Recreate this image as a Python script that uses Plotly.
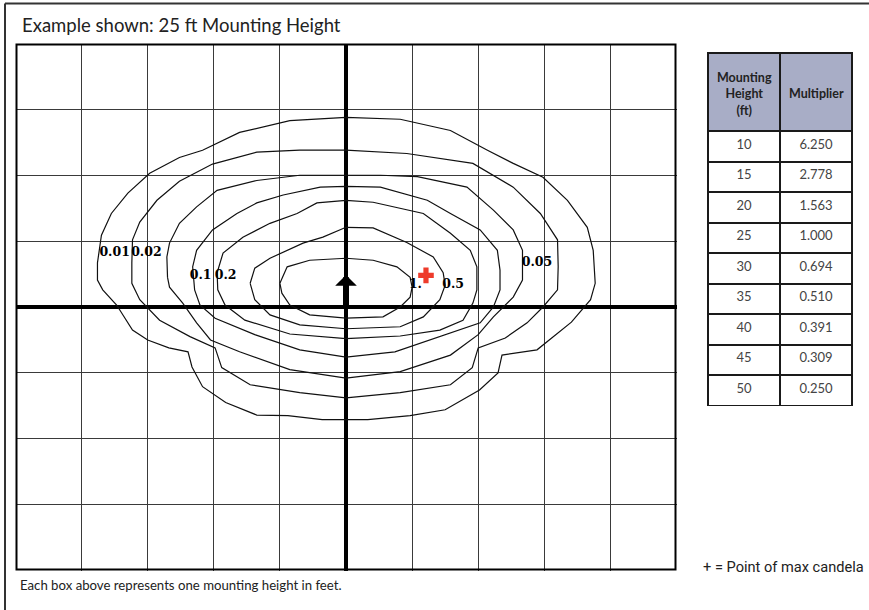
import plotly.graph_objects as go

W, H = 869, 610

# ---- data (grid units = mounting heights; lamp at 0,0) ----
X_RANGE = [-5, 5]
Y_RANGE = [-4, 4]

c001_x = [-3.76, -3.70, -3.55, -3.30, -2.97, -2.52, -2.17, -1.61, -0.85, 0.00, 0.82, 1.58, 2.14, 2.53, 2.98, 3.35, 3.65, 3.74, 3.77, 3.70, 3.41, 3.03, 2.89, 2.36, 2.30, 2.02, 1.50, 0.97, 0.33, -0.36, -0.88, -1.35, -1.82, -2.17, -2.33, -2.39, -2.68, -3.00, -3.23, -3.47, -3.68, -3.76]
c001_y = [0.67, 1.09, 1.42, 1.73, 2.03, 2.27, 2.38, 2.65, 2.83, 2.88, 2.85, 2.68, 2.38, 2.18, 1.97, 1.62, 1.21, 0.86, 0.36, 0.11, -0.23, -0.53, -0.65, -0.73, -1.00, -1.26, -1.56, -1.65, -1.71, -1.71, -1.65, -1.64, -1.45, -1.21, -0.91, -0.68, -0.62, -0.50, -0.35, 0.03, 0.26, 0.41]

c002_x = [-3.24, -3.23, -3.12, -2.86, -2.52, -2.02, -1.35, -0.70, 0.00, 0.92, 1.92, 2.53, 2.94, 3.20, 3.21, 3.20, 2.98, 2.74, 2.41, 2.00, 1.91, 1.58, 0.82, 0.00, -0.70, -1.45, -1.88, -1.98, -2.36, -2.82, -3.12, -3.24]
c002_y = [0.67, 1.02, 1.29, 1.62, 1.91, 2.17, 2.35, 2.38, 2.38, 2.33, 2.18, 1.82, 1.42, 1.02, 0.61, 0.26, 0.00, -0.24, -0.47, -0.62, -0.92, -1.18, -1.30, -1.38, -1.30, -1.18, -0.92, -0.62, -0.45, -0.20, 0.11, 0.36]

c005_x = [-2.70, -2.71, -2.67, -2.52, -2.26, -1.95, -1.35, -0.70, 0.00, 0.52, 1.08, 1.83, 2.23, 2.53, 2.67, 2.67, 2.53, 2.23, 2.00, 1.58, 0.82, 0.00, -0.85, -1.61, -2.05, -2.26, -2.47, -2.67]
c005_y = [0.45, 0.76, 0.97, 1.27, 1.52, 1.77, 1.92, 2.00, 2.00, 2.00, 1.98, 1.82, 1.47, 1.17, 0.86, 0.41, 0.15, -0.15, -0.42, -0.73, -0.98, -1.08, -0.95, -0.68, -0.50, -0.24, 0.06, 0.30]

c01_x = [-2.32, -2.26, -2.02, -1.65, -1.35, -0.95, -0.39, 0.00, 0.52, 1.23, 1.58, 2.03, 2.29, 2.33, 2.33, 2.23, 2.03, 1.42, 0.74, 0.00, -0.70, -1.38, -1.98, -2.21, -2.29]
c01_y = [0.61, 0.86, 1.17, 1.42, 1.58, 1.70, 1.82, 1.83, 1.82, 1.62, 1.42, 1.17, 0.86, 0.56, 0.26, 0.00, -0.24, -0.45, -0.68, -0.76, -0.65, -0.42, -0.17, 0.03, 0.26]

c02_x = [-1.95, -1.86, -1.56, -1.15, -0.74, -0.44, 0.00, 0.41, 1.17, 1.58, 1.88, 1.98, 1.98, 1.92, 1.77, 1.42, 0.82, 0.00, -0.85, -1.53, -1.83, -1.94]
c02_y = [0.52, 0.82, 1.06, 1.27, 1.42, 1.58, 1.62, 1.59, 1.42, 1.12, 0.86, 0.61, 0.26, 0.06, -0.20, -0.35, -0.44, -0.48, -0.41, -0.20, 0.03, 0.26]

c05_x = [-1.45, -1.38, -1.15, -0.65, -0.35, 0.00, 0.41, 0.92, 1.32, 1.47, 1.50, 1.42, 1.17, 0.82, 0.00, -0.70, -1.15, -1.38]
c05_y = [0.36, 0.59, 0.74, 0.97, 1.06, 1.21, 1.20, 0.98, 0.76, 0.52, 0.33, 0.11, -0.15, -0.30, -0.33, -0.27, -0.12, 0.11]

c1_x = [-1.00, -0.89, -0.55, 0.00, 0.41, 0.77, 0.97, 1.00, 0.97, 0.82, 0.56, 0.00, -0.55, -0.85, -0.97]
c1_y = [0.36, 0.61, 0.71, 0.74, 0.71, 0.61, 0.45, 0.30, 0.15, 0.00, -0.15, -0.17, -0.12, 0.03, 0.21]

label_text = ["0.01", "0.02", "0.1", "0.2", "1.", "0.5", "0.05"]
label_x = [-3.50, -3.02, -2.20, -1.82, 1.05, 1.62, 2.89]
label_y = [0.82, 0.82, 0.48, 0.48, 0.33, 0.33, 0.67]

maxcd_x = [1.21]
maxcd_y = [0.48]

arrow_tip_y = 0.485

mount_heights = [10, 15, 20, 25, 30, 35, 40, 45, 50]
multipliers = [6.250, 2.778, 1.563, 1.000, 0.694, 0.510, 0.391, 0.309, 0.250]
table_headers = ["Mounting<br>Height<br>(ft)", "Multiplier"]

title_text = "Example shown: 25 ft Mounting Height"
foot_text = "Each box above represents one mounting height in feet."
legend_text = "+ = Point of max candela"

# ---- figure ----
def px_x(p):
    return p / W

def px_y(p):
    return 1 - p / H

fig = go.Figure()

contours = [(c001_x, c001_y), (c002_x, c002_y), (c005_x, c005_y), (c01_x, c01_y),
            (c02_x, c02_y), (c05_x, c05_y), (c1_x, c1_y)]
for cx, cy in contours:
    fig.add_trace(go.Scatter(
        x=cx + cx[:1], y=cy + cy[:1], mode="lines",
        line=dict(color="#111111", width=1.2), hoverinfo="skip", showlegend=False))

fig.add_trace(go.Scatter(
    x=label_x, y=label_y, mode="text",
    text=["<b>%s</b>" % t for t in label_text],
    textfont=dict(family="DejaVu Serif", size=12.5, color="#000000"),
    hoverinfo="skip", showlegend=False))

fig.add_trace(go.Scatter(
    x=maxcd_x, y=maxcd_y, mode="markers",
    marker=dict(symbol="cross", size=13, color="#ee3b2b", line=dict(width=0)),
    hoverinfo="skip", showlegend=False))

TBL_X0, TBL_X1, TBL_TOP, TBL_BOT, HDR_H = 708, 852, 53, 406, 78
fig.add_trace(go.Table(
    domain=dict(x=[px_x(TBL_X0), px_x(TBL_X1)], y=[px_y(TBL_BOT), px_y(TBL_TOP)]),
    columnwidth=[1, 1],
    header=dict(
        values=["", ""],
        fill_color="#a8adc6", line=dict(color="#1a1a1a", width=2),
        font=dict(family="Lato", size=12, color="#222222"),
        align="center", height=HDR_H),
    cells=dict(
        values=[mount_heights, multipliers],
        format=[None, ".3f"],
        fill_color="#ffffff", line=dict(color="#1a1a1a", width=2),
        font=dict(family="Lato", size=13, color="#444444"),
        align="center", height=30.5),
))

axis_common = dict(showgrid=True, dtick=1, gridcolor="#3a3a3a", gridwidth=1.3,
                   zeroline=True, zerolinecolor="#000000", zerolinewidth=3.5,
                   showticklabels=False, ticks="", showline=False, fixedrange=True)

col_w = (TBL_X1 - TBL_X0) / 2
header_annots = [
    dict(x=px_x(TBL_X0 + col_w * (i + 0.5)), y=px_y(TBL_TOP + HDR_H / 2 + 2),
         xref="paper", yref="paper", xanchor="center", yanchor="middle", align="center",
         text="<b>%s</b>" % t, showarrow=False,
         font=dict(family="Lato", size=12.5, color="#222222"))
    for i, t in enumerate(table_headers)
]

fig.update_layout(
    width=W, height=H,
    margin=dict(l=0, r=0, t=0, b=0),
    paper_bgcolor="#ffffff", plot_bgcolor="#ffffff",
    xaxis=dict(range=X_RANGE, domain=[px_x(15.5), px_x(676.5)], **axis_common),
    yaxis=dict(range=Y_RANGE, domain=[px_y(570.5), px_y(43.5)], **axis_common),
    showlegend=False,
    shapes=[
        dict(type="rect", xref="x", yref="y", x0=X_RANGE[0], x1=X_RANGE[1],
             y0=Y_RANGE[0], y1=Y_RANGE[1], line=dict(color="#000000", width=4)),
        dict(type="line", xref="paper", yref="paper", x0=px_x(5), x1=px_x(5),
             y0=px_y(3.5), y1=px_y(615), line=dict(color="#333333", width=2)),
        dict(type="line", xref="paper", yref="paper", x0=px_x(5), x1=px_x(875),
             y0=px_y(3.5), y1=px_y(3.5), line=dict(color="#333333", width=2)),
    ],
    annotations=[
        dict(x=0, y=arrow_tip_y, ax=0, ay=0, xref="x", yref="y", axref="x", ayref="y",
             text="", showarrow=True, arrowhead=1, arrowsize=0.6, arrowwidth=6,
             arrowcolor="#000000", standoff=0, startstandoff=0),
        dict(x=px_x(20), y=px_y(25), xref="paper", yref="paper", xanchor="left",
             yanchor="middle", text=title_text, showarrow=False,
             font=dict(family="Lato", size=18.5, color="#222222")),
        dict(x=px_x(18), y=px_y(585), xref="paper", yref="paper", xanchor="left",
             yanchor="middle", text=foot_text, showarrow=False,
             font=dict(family="Lato", size=13.2, color="#222222")),
        dict(x=px_x(866), y=px_y(567), xref="paper", yref="paper", xanchor="right",
             yanchor="middle", text=legend_text, showarrow=False,
             font=dict(family="Roboto", size=14.6, color="#222222")),
    ] + header_annots,
)

fig.write_html("out.html", config={"displayModeBar": False},
               post_script="document.body.style.margin='0px';document.body.style.overflow='hidden';")
